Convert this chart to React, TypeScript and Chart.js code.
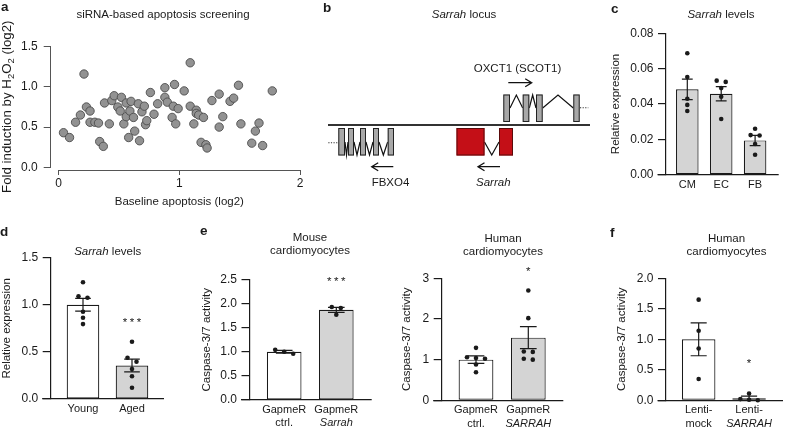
import React, { useEffect, useRef } from "react";
import { Chart, registerables } from "chart.js";

Chart.register(...registerables);

const FONT = '"Liberation Sans", Arial, Helvetica, sans-serif';
const INK = "#1a1a1a";
const GREY_BAR = "#d4d4d4";

/* ---------------- a: siRNA-based apoptosis screening ---------------- */
const aBaseline = [0.04, 0.09, 0.14, 0.18, 0.21, 0.23, 0.26, 0.26, 0.30, 0.33, 0.34, 0.37, 0.38, 0.42, 0.44, 0.46, 0.49, 0.51, 0.52, 0.54, 0.56, 0.56, 0.58, 0.59, 0.60, 0.62, 0.63, 0.66, 0.67, 0.69, 0.71, 0.72, 0.73, 0.76, 0.79, 0.82, 0.88, 0.88, 0.90, 0.94, 0.96, 0.95, 0.97, 0.99, 1.04, 1.09, 1.09, 1.12, 1.14, 1.14, 1.16, 1.18, 1.20, 1.22, 1.23, 1.27, 1.33, 1.33, 1.36, 1.42, 1.45, 1.49, 1.51, 1.60, 1.63, 1.66, 1.69, 1.77];
const aFold = [0.43, 0.37, 0.56, 0.65, 1.16, 0.75, 0.70, 0.56, 0.56, 0.55, 0.32, 0.26, 0.80, 0.54, 0.83, 0.89, 0.75, 0.70, 0.87, 0.54, 0.80, 0.63, 0.37, 0.70, 0.82, 0.62, 0.45, 0.79, 0.33, 0.69, 0.76, 0.53, 0.58, 0.93, 0.66, 0.79, 0.99, 0.87, 0.81, 0.62, 1.03, 0.76, 0.54, 0.73, 0.95, 1.30, 0.76, 0.54, 0.71, 0.67, 0.65, 0.31, 0.62, 0.28, 0.24, 0.83, 0.91, 0.50, 0.63, 0.82, 0.86, 1.02, 0.54, 0.30, 0.45, 0.55, 0.27, 0.95];
const aHitBaseline = [0.76];
const aHitFold = [1.63];
const aXTicks = [0, 1, 2];
const aYTicks = [0, 0.5, 1, 1.5];

/* ---------------- b: Sarrah locus (positions along the locus) ---------------- */
const locusSpan = [0, 262];
const fbxo4Exons = [[10.3, 17], [20, 26], [32, 38], [45, 51], [59.7, 66]];
const sarrahExons = [[128.5, 156.5], [171, 185]];
const oxct1Exons = [[175.3, 182], [194.7, 201.3], [208, 214.7], [245.3, 251.7]];
const fbxo4Arrow = [65.3, 43.7];
const sarrahArrow = [172, 150];
const oxct1Arrow = [180.3, 203.7];
const fbxo4Flank = [0.3, 10];
const oxct1Flank = [252, 260.3];

/* ---------------- c: Sarrah levels by cell type ---------------- */
const cLabels = ["CM", "EC", "FB"];
const cMeans = [0.0483, 0.0458, 0.0194];
const cSems = [0.0058, 0.004, 0.0029];
const cDots = [
  [0.0687, 0.0553, 0.043, 0.0395, 0.036],
  [0.0532, 0.0525, 0.049, 0.0441, 0.0315],
  [0.026, 0.0224, 0.0222, 0.0174, 0.0113],
];
const cYTicks = [0, 0.02, 0.04, 0.06, 0.08];

/* ---------------- d: Sarrah levels young vs aged ---------------- */
const dLabels = ["Young", "Aged"];
const dMeans = [1.0, 0.355];
const dSems = [0.068, 0.068];
const dDots = [
  [1.24, 1.09, 1.075, 0.927, 0.863, 0.795],
  [0.608, 0.438, 0.396, 0.318, 0.241, 0.12],
];
const dYTicks = [0, 0.5, 1, 1.5];
const dSig = ["", "***"];
const dSigY = [null, 0.84];

/* ---------------- e: mouse cardiomyocytes ---------------- */
const emLabels = ["GapmeR", "GapmeR"];
const emLabels2 = ["ctrl.", "Sarrah"];
const emMeans = [1.0, 1.87];
const emSems = [0.03, 0.05];
const emDots = [
  [1.04, 1.0, 0.96],
  [1.93, 1.91, 1.77],
];
const emYTicks = [0, 0.5, 1, 1.5, 2, 2.5];
const emSig = ["", "***"];
const emSigY = [null, 2.53];

/* ---------------- e: human cardiomyocytes ---------------- */
const ehLabels = ["GapmeR", "GapmeR"];
const ehLabels2 = ["ctrl.", "SARRAH"];
const ehMeans = [1.0, 1.54];
const ehSems = [0.09, 0.27];
const ehDots = [
  [1.29, 1.06, 1.04, 1.02, 0.88, 0.69],
  [2.7, 2.02, 1.2, 1.19, 1.02, 1.0],
];
const ehYTicks = [0, 1, 2, 3];
const ehSig = ["", "*"];
const ehSigY = [null, 3.25];

/* ---------------- f: human cardiomyocytes, lentivirus ---------------- */
const fLabels = ["Lenti-", "Lenti-"];
const fLabels2 = ["mock", "SARRAH"];
const fMeans = [1.0, 0.033];
const fSems = [0.27, 0.035];
const fDots = [
  [1.65, 1.14, 0.85, 0.35],
  [0.11, 0.02, 0.01, 0.0],
];
const fYTicks = [0, 0.5, 1, 1.5, 2];
const fSig = ["", "*"];
const fSigY = [null, 0.656];

/* ---------------- helpers ---------------- */
type Part = [string, boolean?, boolean?]; // text, italic, subscript
type TextItem = {
  parts: Part[];
  x: number;
  y: number;
  size?: number;
  bold?: boolean;
  align?: "left" | "center" | "right";
  base?: CanvasTextBaseline;
  rotate?: boolean;
  spacing?: number;
};
type Box = { x: number; y: number; w: number; h: number };
type Rect = { l: number; t: number; r: number; b: number };

function drawTexts(ctx: CanvasRenderingContext2D, items: TextItem[], ox: number, oy: number) {
  for (const it of items) {
    const size = it.size ?? 11.5;
    ctx.save();
    ctx.fillStyle = INK;
    ctx.textAlign = "left";
    ctx.textBaseline = it.base ?? "alphabetic";
    const sp = it.spacing ?? 0;
    if (sp) (ctx as any).letterSpacing = `${sp}px`;
    const fontOf = (p: Part) =>
      `${p[1] ? "italic " : ""}${it.bold ? "bold " : ""}${p[2] ? size * 0.72 : size}px ${FONT}`;
    const widths = it.parts.map((p) => {
      ctx.font = fontOf(p);
      return ctx.measureText(p[0]).width;
    });
    const total = widths.reduce((a, b) => a + b, 0) - sp;
    const align = it.align ?? "left";
    let x = align === "center" ? -total / 2 : align === "right" ? -total : 0;
    ctx.translate(it.x - ox, it.y - oy);
    if (it.rotate) ctx.rotate(-Math.PI / 2);
    it.parts.forEach((p, i) => {
      ctx.font = fontOf(p);
      ctx.fillText(p[0], x, p[2] ? size * 0.28 : 0);
      x += widths[i];
    });
    ctx.restore();
  }
}

function frame(box: Box, area: Rect) {
  return {
    padding: { left: 0, top: area.t - box.y, right: box.x + box.w - area.r, bottom: 0 },
    yWidth: area.l - box.x,
    xHeight: box.y + box.h - area.b,
  };
}
const zeroPad = (s: any) => {
  s.paddingTop = 0;
  s.paddingBottom = 0;
  s.paddingLeft = 0;
  s.paddingRight = 0;
};
const fixW = (w: number) => (s: any) => {
  s.width = w;
  zeroPad(s);
};
const fixH = (h: number) => (s: any) => {
  s.height = h;
  zeroPad(s);
};
const align1 = (v: number, w: number) => Math.round(v - w / 2) + w / 2;

function jitter(values: number[], pxPerY: number, gapPx: number, spreadPx: number) {
  const order = values.map((_, i) => i).sort((a, b) => values[b] - values[a]);
  const offs = new Array(values.length).fill(0);
  let cluster: number[] = [];
  const flush = () => {
    const m = cluster.length;
    cluster.forEach((k, j) => (offs[k] = (j - (m - 1) / 2) * spreadPx));
    cluster = [];
  };
  order.forEach((k, n) => {
    if (n > 0 && (values[order[n - 1]] - values[k]) * pxPerY >= gapPx) flush();
    cluster.push(k);
  });
  flush();
  return offs;
}

const baseOptions = {
  responsive: false,
  maintainAspectRatio: false,
  animation: false as const,
  events: [] as any[],
};

/* ---------------- panel a ---------------- */
function buildA(canvas: HTMLCanvasElement, box: Box) {
  const area = { l: 50.7, t: 46.7, r: 308, b: 170 };
  const f = frame(box, area);
  const texts: TextItem[] = [
    { parts: [["a"]], x: 1, y: 11, size: 13.5, bold: true },
    { parts: [["siRNA-based apoptosis screening"]], x: 163, y: 17.8, align: "center" },
    {
      parts: [["Fold induction by H"], ["2", false, true], ["O"], ["2", false, true], [" (log2)"]],
      x: 7.5,
      y: 106.7,
      size: 13.3,
      align: "center",
      base: "middle",
      rotate: true,
    },
  ];
  const axes = {
    id: "aAxes",
    afterDraw(chart: any) {
      const { ctx, chartArea, scales } = chart;
      ctx.save();
      ctx.strokeStyle = "#555";
      ctx.lineWidth = 1;
      ctx.beginPath();
      const yb = align1(chartArea.bottom, 1);
      ctx.moveTo(scales.x.getPixelForValue(aXTicks[0]), yb);
      ctx.lineTo(scales.x.getPixelForValue(aXTicks[aXTicks.length - 1]), yb);
      const xl = align1(chartArea.left, 1);
      ctx.moveTo(xl, scales.y.getPixelForValue(aYTicks[0]));
      ctx.lineTo(xl, scales.y.getPixelForValue(aYTicks[aYTicks.length - 1]));
      ctx.stroke();
      ctx.restore();
      drawTexts(ctx, texts, box.x, box.y);
    },
  };
  return new Chart(canvas, {
    type: "scatter",
    data: {
      datasets: [
        {
          data: aHitBaseline.map((x, i) => ({ x, y: aHitFold[i] })),
          backgroundColor: "#c1272d",
          borderColor: "#7a1519",
          borderWidth: 0.8,
          pointRadius: 4.5,
          clip: false,
          order: 0,
        } as any,
        {
          data: aBaseline.map((x, i) => ({ x, y: aFold[i] })),
          backgroundColor: "#929292",
          borderColor: "#4d4d4d",
          borderWidth: 0.9,
          pointRadius: 4.2,
          clip: false,
          order: 1,
        },
      ],
    },
    options: {
      ...baseOptions,
      layout: { padding: f.padding },
      plugins: { legend: { display: false }, tooltip: { enabled: false } },
      scales: {
        x: {
          type: "linear",
          min: -0.066,
          max: 2.066,
          afterBuildTicks: (s: any) => {
            s.ticks = aXTicks.map((v) => ({ value: v }));
          },
          afterFit: fixH(f.xHeight),
          grid: { display: true, drawOnChartArea: false, drawTicks: true, tickLength: 5, color: "#555", lineWidth: 1 },
          border: { display: false },
          ticks: { padding: 1, color: INK, font: { family: FONT, size: 12 }, maxRotation: 0, autoSkip: false, callback: (v: any) => String(v) },
          title: { display: true, text: "Baseline apoptosis (log2)", color: INK, font: { family: FONT, size: 11.5 }, padding: { top: 0, bottom: 6.4 } },
        },
        y: {
          type: "linear",
          min: -0.034,
          max: 1.5,
          afterBuildTicks: (s: any) => {
            s.ticks = aYTicks.map((v) => ({ value: v }));
          },
          afterFit: fixW(f.yWidth),
          grid: { display: true, drawOnChartArea: false, drawTicks: true, tickLength: 7, color: "#555", lineWidth: 1 },
          border: { display: false },
          ticks: { padding: 6, color: INK, font: { family: FONT, size: 12 }, callback: (v: any) => Number(v).toFixed(1) },
        },
      },
    } as any,
    plugins: [axes],
  });
}

/* ---------------- panel b ---------------- */
function buildB(canvas: HTMLCanvasElement, box: Box) {
  const area = { l: 328, t: 35, r: 590, b: 195 };
  const texts: TextItem[] = [
    { parts: [["b"]], x: 323, y: 11.7, size: 13.5, bold: true },
    { parts: [["Sarrah", true], [" locus"]], x: 464, y: 17.5, align: "center" },
  ];
  const draw = {
    id: "locus",
    afterDraw(chart: any) {
      const { ctx, scales } = chart;
      const X = (v: number) => scales.x.getPixelForValue(v);
      const Y = (v: number) => scales.y.getPixelForValue(v);
      ctx.save();
      ctx.strokeStyle = "#333";
      ctx.lineWidth = 1.8;
      ctx.beginPath();
      ctx.moveTo(X(locusSpan[0]), Y(0));
      ctx.lineTo(X(locusSpan[1]), Y(0));
      ctx.stroke();

      const gene = (exons: number[][], up: boolean, fill: string, stroke: string) => {
        const s = up ? 1 : -1;
        const y0 = Y(0.3 * s);
        const y1 = Y(3.05 * s);
        ctx.strokeStyle = "#111";
        ctx.lineWidth = 1.2;
        ctx.beginPath();
        for (let i = 0; i < exons.length - 1; i++) {
          const a = exons[i][1];
          const b = exons[i + 1][0];
          ctx.moveTo(X(a), Y(1.7 * s));
          ctx.lineTo(X((a + b) / 2), Y(3.0 * s));
          ctx.lineTo(X(b), Y(1.7 * s));
        }
        ctx.stroke();
        for (const [a, b] of exons) {
          ctx.fillStyle = fill;
          ctx.strokeStyle = stroke;
          ctx.lineWidth = 1;
          const x0 = X(a);
          const w = X(b) - x0;
          const top = Math.min(y0, y1);
          const h = Math.abs(y1 - y0);
          ctx.fillRect(x0, top, w, h);
          ctx.strokeRect(x0 + 0.5, top + 0.5, w - 1, h - 1);
        }
      };
      gene(fbxo4Exons, false, "#a8a8a8", "#222");
      gene(oxct1Exons, true, "#a8a8a8", "#222");
      gene(sarrahExons, false, "#c40f17", "#5a0a0a");

      ctx.strokeStyle = "#333";
      ctx.lineWidth = 1.1;
      ctx.setLineDash([1.2, 1.4]);
      ctx.beginPath();
      ctx.moveTo(X(fbxo4Flank[0]), Y(-1.77));
      ctx.lineTo(X(fbxo4Flank[1]), Y(-1.77));
      ctx.moveTo(X(oxct1Flank[0]), Y(1.73));
      ctx.lineTo(X(oxct1Flank[1]), Y(1.73));
      ctx.stroke();
      ctx.setLineDash([]);

      const arrow = (span: number[], yv: number) => {
        const x0 = X(span[0]);
        const x1 = X(span[1]);
        const y = Y(yv);
        const dir = Math.sign(x1 - x0);
        ctx.strokeStyle = "#111";
        ctx.lineWidth = 1.3;
        ctx.beginPath();
        ctx.moveTo(x0, y);
        ctx.lineTo(x1, y);
        ctx.moveTo(x1 - dir * 6.5, y - 4);
        ctx.lineTo(x1, y);
        ctx.lineTo(x1 - dir * 6.5, y + 4);
        ctx.stroke();
      };
      arrow(oxct1Arrow, 4.23);
      arrow(fbxo4Arrow, -4.17);
      arrow(sarrahArrow, -4.17);

      ctx.restore();
      const labels: TextItem[] = [
        { parts: [["OXCT1 (SCOT1)"]], x: X(189.5), y: Y(5.57), align: "center", base: "middle" },
        { parts: [["FBXO4"]], x: X(62.5), y: Y(-5.77), align: "center", base: "middle" },
        { parts: [["Sarrah", true]], x: X(165.3), y: Y(-5.77), align: "center", base: "middle" },
      ];
      drawTexts(ctx, labels, 0, 0);
      drawTexts(ctx, texts, box.x, box.y);
    },
  };
  return new Chart(canvas, {
    type: "scatter",
    data: { datasets: [] },
    options: {
      ...baseOptions,
      layout: { padding: { left: area.l - box.x, top: area.t - box.y, right: box.x + box.w - area.r, bottom: box.y + box.h - area.b } },
      plugins: { legend: { display: false }, tooltip: { enabled: false } },
      scales: {
        x: { type: "linear", min: locusSpan[0], max: locusSpan[1], display: false },
        y: { type: "linear", min: -7, max: 9, display: false },
      },
    } as any,
    plugins: [draw],
  });
}

/* ---------------- bar panels ---------------- */
type BarSpec = {
  id: string;
  box: Box;
  area: Rect;
  c0: number;
  step: number;
  labels: string[];
  labels2?: string[];
  italic2?: boolean[];
  means: number[];
  sems: number[];
  dots: number[][];
  fills: string[];
  yTicks: number[];
  decimals: number;
  yTitle: string;
  yTitlePad: number;
  sig?: string[];
  sigY?: (number | null)[];
  texts: TextItem[];
};

function buildBar(canvas: HTMLCanvasElement, s: BarSpec) {
  const f = frame(s.box, s.area);
  const xMin = -(s.c0 - s.area.l) / s.step;
  const xMax = xMin + (s.area.r - s.area.l) / s.step;
  const yMax = s.yTicks[s.yTicks.length - 1];
  const pxPerY = (s.area.b - s.area.t) / yMax;
  const pts: { x: number; y: number }[] = [];
  s.dots.forEach((vals, i) => {
    const offs = jitter(vals, pxPerY, 5, 9);
    vals.forEach((v, j) => pts.push({ x: i + offs[j] / s.step, y: v }));
  });
  const labelSize = 11;
  const lh = labelSize * 1.2;
  const tickPad = 3.5;
  const lw = 1.2;
  const plugin = {
    id: "bar_" + s.id,
    afterDatasetDraw(chart: any, args: any) {
      if (args.meta.type !== "bar") return;
      const { ctx, scales } = chart;
      ctx.save();
      ctx.strokeStyle = INK;
      ctx.lineWidth = lw;
      args.meta.data.forEach((bar: any, i: number) => {
        const cx = scales.x.getPixelForValue(i);
        const half = bar.width * 0.24;
        const yt = scales.y.getPixelForValue(s.means[i] + s.sems[i]);
        const yb = scales.y.getPixelForValue(Math.max(0, s.means[i] - s.sems[i]));
        ctx.beginPath();
        ctx.moveTo(cx, yt);
        ctx.lineTo(cx, yb);
        ctx.moveTo(cx - half, yt);
        ctx.lineTo(cx + half, yt);
        ctx.moveTo(cx - half, yb);
        ctx.lineTo(cx + half, yb);
        ctx.stroke();
      });
      ctx.restore();
    },
    afterDraw(chart: any) {
      const { ctx, chartArea, scales } = chart;
      ctx.save();
      ctx.strokeStyle = INK;
      ctx.lineWidth = lw;
      const yb = align1(chartArea.bottom, lw);
      ctx.beginPath();
      ctx.moveTo(chartArea.left - 8.5, yb);
      ctx.lineTo(chartArea.right, yb);
      ctx.stroke();
      ctx.restore();
      const extra: TextItem[] = [];
      if (s.labels2) {
        s.labels2.forEach((t, i) => {
          extra.push({
            parts: [[t, s.italic2 ? s.italic2[i] : false]],
            x: scales.x.getPixelForValue(i),
            y: chartArea.bottom + tickPad + lh / 2 + lh,
            size: labelSize,
            align: "center",
            base: "middle",
          });
        });
      }
      if (s.sig && s.sigY) {
        s.sig.forEach((t, i) => {
          const v = s.sigY![i];
          if (!t || v === null) return;
          extra.push({
            parts: [[t]],
            x: scales.x.getPixelForValue(i),
            y: scales.y.getPixelForValue(v) + 0.57 * 11.5,
            align: "center",
            spacing: 2.5,
          });
        });
      }
      drawTexts(ctx, extra, 0, 0);
      drawTexts(ctx, s.texts, s.box.x, s.box.y);
    },
  };
  return new Chart(canvas, {
    type: "bar",
    data: {
      datasets: [
        {
          type: "bar",
          data: s.means.map((m, i) => ({ x: i, y: m })),
          backgroundColor: s.fills,
          borderColor: INK,
          borderWidth: lw,
          borderSkipped: false,
          categoryPercentage: 1,
          barPercentage: 0.665,
          order: 1,
        } as any,
        {
          type: "scatter",
          data: pts,
          backgroundColor: INK,
          borderColor: INK,
          borderWidth: 0,
          pointRadius: 2.3,
          clip: false,
          order: 0,
        } as any,
      ],
    },
    options: {
      ...baseOptions,
      layout: { padding: f.padding },
      plugins: { legend: { display: false }, tooltip: { enabled: false } },
      scales: {
        x: {
          type: "linear",
          min: xMin,
          max: xMax,
          offset: false,
          afterBuildTicks: (sc: any) => {
            sc.ticks = s.labels.map((_, i) => ({ value: i }));
          },
          afterFit: fixH(f.xHeight),
          grid: { display: false, drawTicks: false, offset: false },
          border: { display: false },
          ticks: {
            padding: tickPad,
            color: INK,
            font: { family: FONT, size: labelSize },
            maxRotation: 0,
            minRotation: 0,
            autoSkip: false,
            callback: (v: any) => s.labels[Math.round(Number(v))] ?? "",
          },
        },
        y: {
          type: "linear",
          min: 0,
          max: yMax,
          afterBuildTicks: (sc: any) => {
            sc.ticks = s.yTicks.map((v) => ({ value: v }));
          },
          afterFit: fixW(f.yWidth),
          grid: { display: true, drawOnChartArea: false, drawTicks: true, tickLength: 8, color: INK, lineWidth: lw },
          border: { display: true, color: INK, width: lw },
          ticks: { padding: 4.5, color: INK, font: { family: FONT, size: 12 }, callback: (v: any) => Number(v).toFixed(s.decimals) },
          title: { display: true, text: s.yTitle, color: INK, font: { family: FONT, size: 11.5 }, padding: { top: s.yTitlePad, bottom: 0 } },
        },
      },
    } as any,
    plugins: [plugin],
  });
}

/* ---------------- layout ---------------- */
const BOX: Record<string, Box> = {
  a: { x: 0, y: 0, w: 322, h: 215 },
  b: { x: 322, y: 0, w: 268, h: 215 },
  c: { x: 590, y: 0, w: 197, h: 215 },
  d: { x: 0, y: 215, w: 200, h: 214 },
  em: { x: 200, y: 215, w: 190, h: 214 },
  eh: { x: 390, y: 215, w: 200, h: 214 },
  f: { x: 590, y: 215, w: 197, h: 214 },
};
const PANELS = ["a", "b", "c", "d", "em", "eh", "f"];

function specs(): Record<string, BarSpec> {
  return {
    c: {
      id: "c",
      box: BOX.c,
      area: { l: 666, t: 33.3, r: 778.7, b: 174.7 },
      c0: 687.3,
      step: 33.9,
      labels: cLabels,
      means: cMeans,
      sems: cSems,
      dots: cDots,
      fills: [GREY_BAR, GREY_BAR, GREY_BAR],
      yTicks: cYTicks,
      decimals: 2,
      yTitle: "Relative expression",
      yTitlePad: 19.1,
      texts: [
        { parts: [["c"]], x: 611, y: 13.3, size: 13.5, bold: true },
        { parts: [["Sarrah", true], [" levels"]], x: 721, y: 17.8, align: "center" },
      ],
    },
    d: {
      id: "d",
      box: BOX.d,
      area: { l: 50.7, t: 257.7, r: 164, b: 399 },
      c0: 83,
      step: 49,
      labels: dLabels,
      means: dMeans,
      sems: dSems,
      dots: dDots,
      fills: ["#ffffff", GREY_BAR],
      yTicks: dYTicks,
      decimals: 1,
      yTitle: "Relative expression",
      yTitlePad: 0.4,
      sig: dSig,
      sigY: dSigY,
      texts: [
        { parts: [["d"]], x: 0, y: 235.7, size: 13.5, bold: true },
        { parts: [["Sarrah", true], [" levels"]], x: 107.7, y: 254.5, align: "center" },
      ],
    },
    em: {
      id: "em",
      box: BOX.em,
      area: { l: 249.5, t: 279.5, r: 371.7, b: 400 },
      c0: 284.2,
      step: 52.1,
      labels: emLabels,
      labels2: emLabels2,
      italic2: [false, true],
      means: emMeans,
      sems: emSems,
      dots: emDots,
      fills: ["#ffffff", GREY_BAR],
      yTicks: emYTicks,
      decimals: 1,
      yTitle: "Caspase-3/7 activity",
      yTitlePad: 0.4,
      sig: emSig,
      sigY: emSigY,
      texts: [
        { parts: [["e"]], x: 200, y: 235, size: 13.5, bold: true },
        { parts: [["Mouse"]], x: 310, y: 240.8, align: "center" },
        { parts: [["cardiomyocytes"]], x: 310, y: 254.3, align: "center" },
      ],
    },
    eh: {
      id: "eh",
      box: BOX.eh,
      area: { l: 441.7, t: 278.3, r: 563.3, b: 400.3 },
      c0: 476,
      step: 52.3,
      labels: ehLabels,
      labels2: ehLabels2,
      italic2: [false, true],
      means: ehMeans,
      sems: ehSems,
      dots: ehDots,
      fills: ["#ffffff", GREY_BAR],
      yTicks: ehYTicks,
      decimals: 0,
      yTitle: "Caspase-3/7 activity",
      yTitlePad: 9.8,
      sig: ehSig,
      sigY: ehSigY,
      texts: [
        { parts: [["Human"]], x: 503, y: 241.5, align: "center" },
        { parts: [["cardiomyocytes"]], x: 503, y: 254.8, align: "center" },
      ],
    },
    f: {
      id: "f",
      box: BOX.f,
      area: { l: 666, t: 278.3, r: 786.7, b: 400.3 },
      c0: 699.7,
      step: 52,
      labels: fLabels,
      labels2: fLabels2,
      italic2: [false, true],
      means: fMeans,
      sems: fSems,
      dots: fDots,
      fills: ["#ffffff", GREY_BAR],
      yTicks: fYTicks,
      decimals: 1,
      yTitle: "Caspase-3/7 activity",
      yTitlePad: 24.8,
      sig: fSig,
      sigY: fSigY,
      texts: [
        { parts: [["f"]], x: 610, y: 236.7, size: 13.5, bold: true },
        { parts: [["Human"]], x: 726.5, y: 241.5, align: "center" },
        { parts: [["cardiomyocytes"]], x: 726.5, y: 254.8, align: "center" },
      ],
    },
  };
}

export default function App() {
  const refs = useRef<Record<string, HTMLCanvasElement | null>>({});
  useEffect(() => {
    const sp = specs();
    const charts: Chart[] = [];
    for (const k of PANELS) {
      const cv = refs.current[k];
      if (!cv) continue;
      if (k === "a") charts.push(buildA(cv, BOX.a));
      else if (k === "b") charts.push(buildB(cv, BOX.b));
      else charts.push(buildBar(cv, sp[k]));
    }
    return () => charts.forEach((c) => c.destroy());
  }, []);
  return (
    <div style={{ position: "fixed", left: 0, top: 0, width: 787, height: 429, background: "#ffffff", overflow: "hidden" }}>
      {PANELS.map((k) => (
        <canvas
          key={k}
          ref={(el) => {
            refs.current[k] = el;
          }}
          width={BOX[k].w}
          height={BOX[k].h}
          style={{ position: "absolute", left: BOX[k].x, top: BOX[k].y, width: BOX[k].w, height: BOX[k].h }}
        />
      ))}
    </div>
  );
}
